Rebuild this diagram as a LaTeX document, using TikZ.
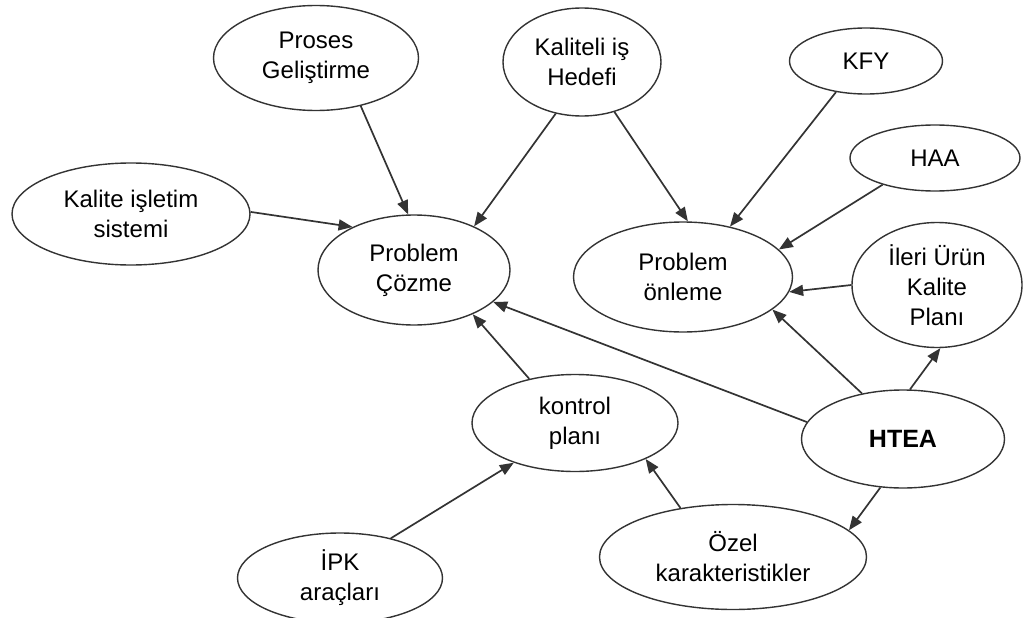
\documentclass[tikz,border=0pt]{standalone}
\usepackage{fontspec}
\setmainfont{Liberation Sans}
\usetikzlibrary{shapes.geometric,arrows.meta}
\begin{document}
\begin{tikzpicture}[x=1pt,y=-1pt,
  bubble/.style={draw=black!80,line width=1.4pt,ellipse,inner sep=0pt,align=center,
    font=\fontsize{24}{30}\selectfont},
  link/.style={draw=black!80,line width=1.7pt,-{Triangle[length=14pt,width=11pt]}}]
\useasboundingbox (0,0) rectangle (1023,618);
% top row
\node[bubble,minimum width=205,minimum height=105] (proses) at (316,58) {Proses\\Geliştirme};
\node[bubble,minimum width=158,minimum height=108] (hedef) at (582,62) {Kaliteli iş\\Hedefi};
\node[bubble,minimum width=153,minimum height=66] (kfy) at (866,61) {KFY};
\node[bubble,minimum width=170,minimum height=66] (haa) at (935,158) {HAA};
% middle
\node[bubble,minimum width=238,minimum height=102] (kis) at (131,214) {Kalite işletim\\sistemi};
\node[bubble,minimum width=192,minimum height=110] (cozme) at (414,270) {Problem\\Çözme};
\node[bubble,minimum width=219,minimum height=110] (onleme) at (683,277) {Problem\\önleme};
\node[bubble,minimum width=170,minimum height=125] (iukp) at (937,285) {İleri Ürün\\Kalite\\Planı};
% bottom
\node[bubble,minimum width=206,minimum height=97] (kontrol) at (575,423) {kontrol\\planı};
\node[bubble,minimum width=203,minimum height=98,font=\fontsize{25}{30}\selectfont\bfseries] (htea) at (903,439) {HTEA};
\node[bubble,minimum width=205,minimum height=90] (ipk) at (340,578) {İPK\\araçları};
\node[bubble,minimum width=267,minimum height=105] (ozel) at (733,557) {Özel\\karakteristikler};
% arrows
\draw[link] (proses.-47) -- (cozme.96);
\draw[link] (hedef.-117) -- (cozme.36);
\draw[link] (hedef.-57) -- (onleme.85);
\draw[link] (kfy.-134) -- (onleme.47);
\draw[link] (haa.-153) -- (onleme.16);
\draw[link] (kis.1) -- (cozme.145);
\draw[link] (iukp.180) -- (onleme.-8);
\draw[link] (htea.132) -- (onleme.-20);
\draw[link] (htea.82) -- (iukp.-87);
\draw[link] (htea.170) -- (cozme.-22);
\draw[link] (kontrol.136) -- (cozme.-37);
\draw[link] (ipk.38) -- (kontrol.-147);
\draw[link] (ozel.137) -- (kontrol.-27);
\draw[link] (htea.-115) -- (ozel.13);
\end{tikzpicture}
\end{document}
